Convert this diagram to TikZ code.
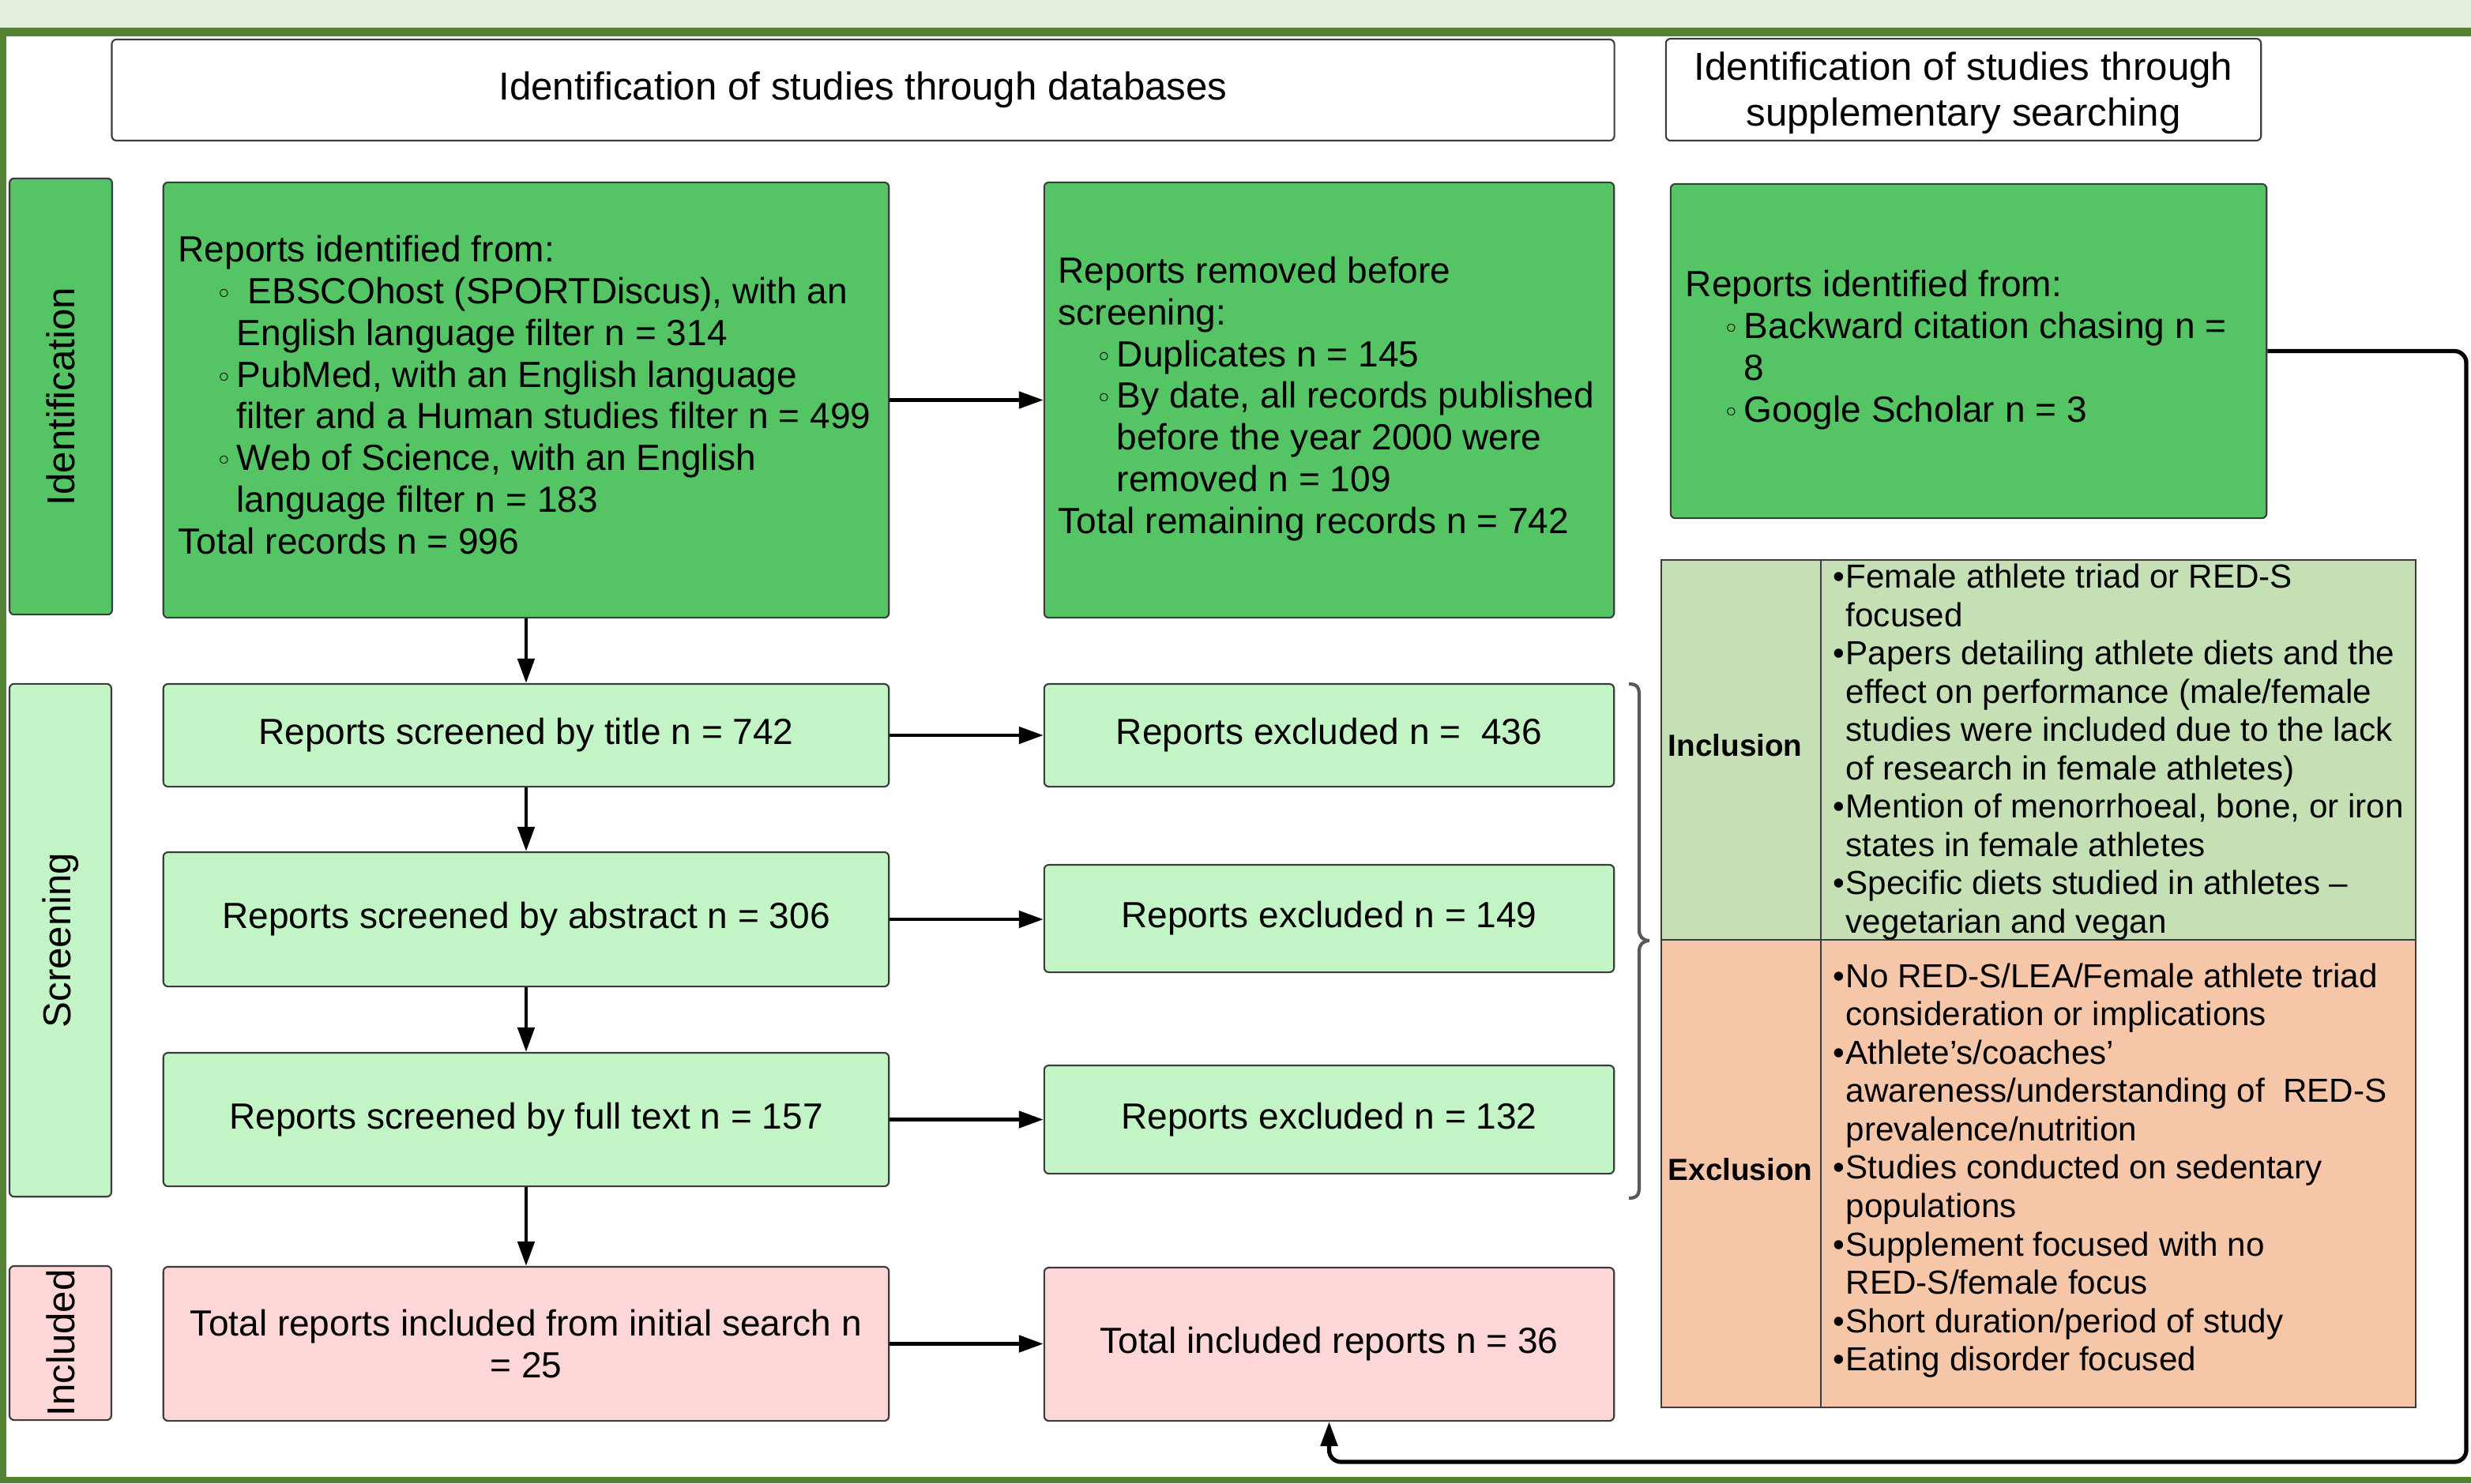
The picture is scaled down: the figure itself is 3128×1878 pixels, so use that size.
\documentclass[tikz,border=0pt]{standalone}
\usepackage{fontspec}
\setmainfont{Liberation Sans}
\newfontfamily\dejavu{DejaVu Sans}
\usetikzlibrary{arrows.meta,calc}
\definecolor{idgreen}{HTML}{55C464}
\definecolor{scgreen}{HTML}{C2F4C6}
\definecolor{inpink}{HTML}{FDD6D7}
\definecolor{tinc}{HTML}{C5E0B4}
\definecolor{texc}{HTML}{F6C6A8}
\definecolor{bandcol}{HTML}{E2EFDA}
\definecolor{framecol}{HTML}{548235}
\definecolor{edgecol}{HTML}{3C3C3C}
\newcommand{\wbul}{{\dejavu\fontsize{10}{10}\selectfont ◦}}
\newcommand{\wbItem}[1]{\hspace*{0.48cm}\makebox[0.26cm][l]{\wbul}#1}
\newcommand{\wbCont}[1]{\hspace*{0.74cm}#1}
\newcommand{\tbItem}[1]{\makebox[0.16cm][l]{•}#1}
\newcommand{\tbCont}[1]{\hspace*{0.16cm}#1}
\newcommand{\fmain}{\fontsize{13.1}{15}\selectfont}
\newcommand{\fhead}{\fontsize{14}{16.4}\selectfont}
\newcommand{\ftab}{\fontsize{12}{13.8}\selectfont}
\begin{document}
\begin{tikzpicture}[x=0.01cm,y=-0.01cm,
  box/.style={draw=edgecol, line width=0.6pt, rounded corners=0.06cm, inner sep=0pt, font=\fmain, align=center},
  hdr/.style={box, fill=white, font=\fhead},
  stage/.style={box, font=\fhead, rotate=90},
  txt/.style={inner sep=0pt, font=\fmain, align=left, anchor=west},
  cell/.style={draw=edgecol, line width=0.6pt, inner sep=0pt},
  ttxt/.style={inner sep=0pt, font=\ftab, align=left, anchor=west},
  arr/.style={line width=1.3pt, -{Triangle[length=8.8pt,width=6pt]}}
]
\useasboundingbox (0,0) rectangle (3128,1878);
\fill[bandcol] (0,0) rectangle (3128,35);
\fill[framecol] (0,35) rectangle (3128,46);
\fill[framecol] (0,35) rectangle (8,1878);
\fill[framecol] (0,1870) rectangle (3128,1878);

% headers
\node[hdr, minimum width=19.01cm, minimum height=1.28cm] (h1) at (1092.5,114) {Identification of studies through databases};
\node[hdr, minimum width=7.53cm, minimum height=1.29cm] (h2) at (2485.5,113.5) {};
\node[inner sep=0pt, font=\fhead, align=center] (h2t) at (2485.5,118) {Identification of studies through\\supplementary searching};

% stage labels
\node[stage, fill=idgreen, minimum width=5.52cm, minimum height=1.30cm] (sI) at (77,502) {Identification};
\node[stage, fill=scgreen, minimum width=6.49cm, minimum height=1.29cm] (sS) at (76.5,1190.5) {Screening};
\node[stage, fill=inpink, minimum width=1.95cm, minimum height=1.29cm] (sN) at (76.5,1700.5) {Included};

% left column
\node[box, fill=idgreen, minimum width=9.18cm, minimum height=5.51cm] (b1) at (666,506.5) {};
\node[txt] (b1t) at (225,500) {Reports identified from:\\
\wbItem{\hspace{0.14cm}EBSCOhost (SPORTDiscus), with an}\\
\wbCont{English language filter n = 314}\\
\wbItem{PubMed, with an English language}\\
\wbCont{filter and a Human studies filter n = 499}\\
\wbItem{Web of Science, with an English}\\
\wbCont{language filter n = 183}\\
Total records n = 996};
\node[box, fill=scgreen, minimum width=9.18cm, minimum height=1.30cm] (b2) at (666,931) {Reports screened by title n = 742};
\node[box, fill=scgreen, minimum width=9.18cm, minimum height=1.70cm] (b3) at (666,1164) {Reports screened by abstract n = 306};
\node[box, fill=scgreen, minimum width=9.18cm, minimum height=1.69cm] (b4) at (666,1417.5) {Reports screened by full text n = 157};
\node[box, fill=inpink, minimum width=9.18cm, minimum height=1.95cm] (b5) at (666,1701.5) {Total reports included from initial search n\\= 25};

% middle column
\node[box, fill=idgreen, minimum width=7.21cm, minimum height=5.51cm] (r1) at (1682.5,506.5) {};
\node[txt] (r1t) at (1339,505) {Reports removed before\\
screening:\\
\wbItem{Duplicates n = 145}\\
\wbItem{By date, all records published}\\
\wbCont{before the year 2000 were}\\
\wbCont{removed n = 109}\\
Total remaining records n = 742};
\node[box, fill=scgreen, minimum width=7.21cm, minimum height=1.30cm] (r2) at (1682.5,931) {Reports excluded n =\ \ 436};
\node[box, fill=scgreen, minimum width=7.21cm, minimum height=1.36cm] (r3) at (1682.5,1163) {Reports excluded n = 149};
\node[box, fill=scgreen, minimum width=7.21cm, minimum height=1.37cm] (r4) at (1682.5,1417.5) {Reports excluded n = 132};
\node[box, fill=inpink, minimum width=7.21cm, minimum height=1.94cm] (r5) at (1682.5,1702) {Total included reports n = 36};

% supplementary
\node[box, fill=idgreen, minimum width=7.54cm, minimum height=4.23cm] (s) at (2492,444.5) {};
\node[txt] (st) at (2133,443) {Reports identified from:\\
\wbItem{Backward citation chasing n =}\\
\wbCont{8}\\
\wbItem{Google Scholar n = 3}};

% table
\node[cell, fill=tinc, minimum width=2.02cm, minimum height=4.81cm] (ti) at (2204,949.5) {};
\node[cell, fill=tinc, minimum width=7.53cm, minimum height=4.81cm] (tiT) at (2681.5,949.5) {};
\node[cell, fill=texc, minimum width=2.02cm, minimum height=5.92cm] (te) at (2204,1486) {};
\node[cell, fill=texc, minimum width=7.53cm, minimum height=5.92cm] (teT) at (2681.5,1486) {};
\node[inner sep=0pt, anchor=west, font=\fontsize{11}{13}\selectfont\bfseries] (til) at (2111,944) {Inclusion};
\node[inner sep=0pt, anchor=west, font=\fontsize{11}{13}\selectfont\bfseries] (tel) at (2111,1481) {Exclusion};
\node[ttxt] (tit) at (2320,952) {\tbItem{Female athlete triad or RED-S}\\
\tbCont{focused}\\
\tbItem{Papers detailing athlete diets and the}\\
\tbCont{effect on performance (male/female}\\
\tbCont{studies were included due to the lack}\\
\tbCont{of research in female athletes)}\\
\tbItem{Mention of menorrhoeal, bone, or iron}\\
\tbCont{states in female athletes}\\
\tbItem{Specific diets studied in athletes –}\\
\tbCont{vegetarian and vegan}};
\node[ttxt] (tet) at (2320,1482) {\tbItem{No RED-S/LEA/Female athlete triad}\\
\tbCont{consideration or implications}\\
\tbItem{Athlete’s/coaches’}\\
\tbCont{awareness/understanding of\ \ RED-S}\\
\tbCont{prevalence/nutrition}\\
\tbItem{Studies conducted on sedentary}\\
\tbCont{populations}\\
\tbItem{Supplement focused with no}\\
\tbCont{RED-S/female focus}\\
\tbItem{Short duration/period of study}\\
\tbItem{Eating disorder focused}};

% brace
\draw[line width=1.2pt, draw=black!65] (2062,866) .. controls (2072,866) and (2075,870) .. (2075,880) -- (2075,1178) .. controls (2075,1186) and (2080,1191) .. (2088,1191) .. controls (2080,1191) and (2075,1196) .. (2075,1204) -- (2075,1503) .. controls (2075,1513) and (2072,1517) .. (2062,1517);

% arrows
\draw[arr] (b1.east) -- (b1.east -| r1.west);
\draw[arr] (b2.east) -- (b2.east -| r2.west);
\draw[arr] (b3.east) -- (b3.east -| r3.west);
\draw[arr] (b4.east) -- (b4.east -| r4.west);
\draw[arr] (b5.east) -- (b5.east -| r5.west);
\draw[arr] (b1.south) -- (b2.north);
\draw[arr] (b2.south) -- (b3.north);
\draw[arr] (b3.south) -- (b4.north);
\draw[arr] (b4.south) -- (b5.north);
\coordinate (fb) at (3122,1851);
\draw[arr, line width=1.5pt, rounded corners=0.15cm] (s.east) -| (fb) -| (r5.south);
\end{tikzpicture}
\end{document}
